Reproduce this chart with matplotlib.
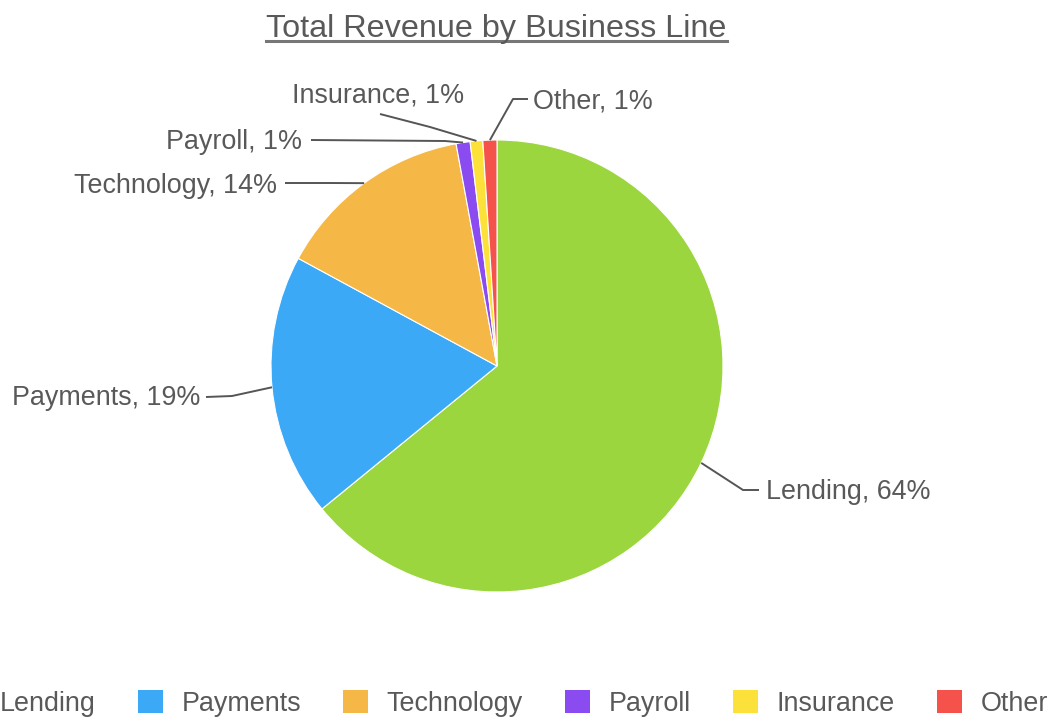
import matplotlib.pyplot as plt
from matplotlib.patches import Patch
from matplotlib.lines import Line2D
import numpy as np

plt.rcParams['font.family'] = ['Liberation Sans', 'DejaVu Sans']

# data
business_lines = ['Lending', 'Payments', 'Technology', 'Payroll', 'Insurance', 'Other']
revenue_share = [64.1, 18.8, 14.2, 1.0, 0.9, 1.0]
colors = ['#9bd63f', '#3ca9f7', '#f5b847', '#8a4cf0', '#fde13b', '#f4524a']

W, H = 1049, 717
TEXT = '#595959'
LINE = '#555555'

fig = plt.figure(figsize=(W / 100, H / 100), dpi=100)
ax = fig.add_axes([0, 0, 1, 1])

cx, cy, r = 497, H - 366, 226
wedges, _ = ax.pie(revenue_share, colors=colors, startangle=90, counterclock=False,
                   center=(cx, cy), radius=r,
                   wedgeprops=dict(edgecolor='white', linewidth=0.8))
ax.set_xlim(0, W)
ax.set_ylim(0, H)
ax.set_aspect('equal')
ax.axis('off')

# label layout (pixel coords, y measured from top): elbow, line end, text anchor, alignment
label_layout = [
    ((743, 490), (759, 490), (766, 499), 'left'),
    ((232, 396), (206, 397), (200, 405), 'right'),
    ((330, 183), (285, 183), (277, 193), 'right'),
    ((445, 141), (311, 140), (302, 149), 'right'),
    ((430, 127), (380, 114), (378, 102), 'center'),
    ((513, 99), (528, 99), (533, 108), 'left'),
]

total = sum(revenue_share)
for w, name, val, (elbow, end, txt, ha) in zip(wedges, business_lines, revenue_share, label_layout):
    ang = np.deg2rad((w.theta1 + w.theta2) / 2)
    x0 = cx + r * np.cos(ang)
    y0 = cy + r * np.sin(ang)
    ax.plot([x0, elbow[0], end[0]], [y0, H - elbow[1], H - end[1]],
            color=LINE, lw=1.4, solid_capstyle='butt')
    ax.text(txt[0], H - txt[1], f'{name}, {round(val / total * 100):.0f}%',
            ha=ha, va='baseline', fontsize=19.4, color=TEXT)

# title with underline
title = fig.text(496.5 / W, 1 - 37 / H, 'Total Revenue by Business Line',
                 ha='center', va='baseline', fontsize=23.3, color=TEXT)
fig.canvas.draw()
bb = title.get_window_extent()
fig.add_artist(Line2D([bb.x0 / W, bb.x1 / W], [1 - 41 / H, 1 - 41 / H],
                      color='#777777', lw=2.2, transform=fig.transFigure))

# legend along the bottom, clipped on the left like the original
handles = [Patch(facecolor=c, edgecolor='none') for c in colors]
fig.legend(handles, business_lines, loc='lower left', ncol=6, frameon=False,
           bbox_to_anchor=(-44 / W, 0 / H), borderaxespad=0, borderpad=0,
           fontsize=19.4, handlelength=0.95, handleheight=0.95,
           handletextpad=0.68, columnspacing=1.55, labelcolor=TEXT)

fig.savefig('out.png', dpi=100)
